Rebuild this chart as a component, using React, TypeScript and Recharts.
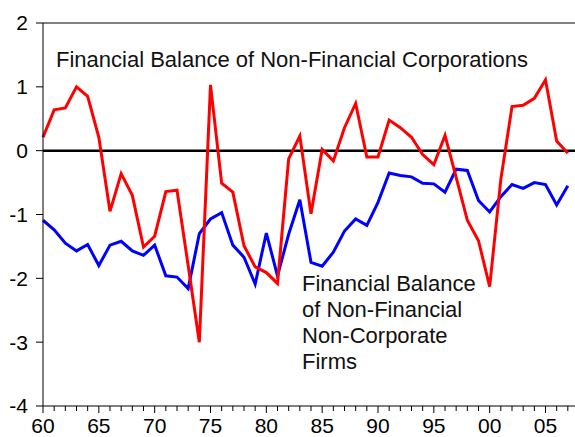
import React from 'react';
import { LineChart, Line, XAxis, YAxis, ReferenceLine } from 'recharts';

// Years 1960-2007
const years = [
    1960, 1961, 1962, 1963, 1964, 1965, 1966, 1967, 1968, 1969,
    1970, 1971, 1972, 1973, 1974, 1975, 1976, 1977, 1978, 1979,
    1980, 1981, 1982, 1983, 1984, 1985, 1986, 1987, 1988, 1989,
    1990, 1991, 1992, 1993, 1994, 1995, 1996, 1997, 1998, 1999,
    2000, 2001, 2002, 2003, 2004, 2005, 2006, 2007,
];

// Financial balance of non-financial corporations (red)
const corporations = [
    0.21, 0.64, 0.67, 1.0, 0.85, 0.21, -0.95, -0.36, -0.7, -1.51,
    -1.34, -0.64, -0.62, -1.8, -3.0, 1.03, -0.51, -0.65, -1.49, -1.82,
    -1.91, -2.08, -0.13, 0.23, -0.99, 0.02, -0.16, 0.36, 0.74, -0.1,
    -0.1, 0.48, 0.36, 0.21, -0.06, -0.22, 0.24, -0.42, -1.09, -1.41,
    -2.13, -0.45, 0.69, 0.71, 0.82, 1.11, 0.15, -0.04,
];

// Financial balance of non-financial non-corporate firms (blue)
const nonCorporate = [
    -1.09, -1.24, -1.45, -1.57, -1.47, -1.8, -1.48, -1.42, -1.57, -1.64,
    -1.48, -1.96, -1.98, -2.16, -1.3, -1.07, -0.97, -1.48, -1.67, -2.09,
    -1.29, -1.96, -1.31, -0.77, -1.75, -1.81, -1.59, -1.26, -1.07, -1.17,
    -0.81, -0.35, -0.39, -0.41, -0.51, -0.52, -0.65, -0.29, -0.31, -0.78,
    -0.96, -0.72, -0.53, -0.59, -0.5, -0.53, -0.85, -0.55,
];

const yTicks = [-4, -3, -2, -1, 0, 1, 2];
const xTicks = Array.from({ length: 49 }, (_, i) => 1960 + i);

const data = years.map((year, i) => ({
    year,
    corp: corporations[i],
    nonCorp: nonCorporate[i],
}));

const FONT = '"Liberation Sans", Arial, sans-serif';

const YearTick = (props: any) => {
    const { x, y, payload } = props;
    const yr = payload.value as number;
    const major = yr % 5 === 0;
    return (
        <g>
            <line x1={x} x2={x} y1={y} y2={y + (major ? 7 : 5)} stroke="#000" strokeWidth={1} />
            {major && yr < 2008 && (
                <text x={x} y={y + 27} textAnchor="middle" fontSize={21} fontFamily={FONT} fill="#000">
                    {String(yr % 100).padStart(2, '0')}
                </text>
            )}
        </g>
    );
};

const App = () => {
    return (
        <div style={{ position: 'absolute', left: 0, top: 0, width: 575, height: 437, overflow: 'hidden', background: '#fff' }}>
            <LineChart
                width={600}
                height={437}
                data={data}
                margin={{ top: 23, right: 21, bottom: 0, left: 0 }}
            >
                <XAxis
                    dataKey="year"
                    type="number"
                    domain={[1960, 2008]}
                    ticks={xTicks}
                    interval={0}
                    height={31}
                    tickLine={false}
                    tickSize={0}
                    tickMargin={0}
                    stroke="#000"
                    tick={<YearTick />}
                />
                <YAxis
                    type="number"
                    domain={[-4, 2]}
                    ticks={yTicks}
                    interval={0}
                    width={43}
                    tickSize={7}
                    tickMargin={8}
                    stroke="#000"
                    tick={{ fontSize: 21, fontFamily: FONT, fill: '#000' }}
                />
                <ReferenceLine y={2} stroke="#000" strokeWidth={1} />
                <ReferenceLine y={0} stroke="#000" strokeWidth={2.5} />
                <Line
                    dataKey="nonCorp"
                    stroke="#0000ff"
                    strokeWidth={3}
                    dot={false}
                    isAnimationActive={false}
                />
                <Line
                    dataKey="corp"
                    stroke="#ff0000"
                    strokeWidth={3}
                    dot={false}
                    isAnimationActive={false}
                />
            </LineChart>
            <svg
                width={575}
                height={437}
                style={{ position: 'absolute', left: 0, top: 0, pointerEvents: 'none' }}
                fontFamily={FONT}
                fontSize={22}
                fill="#111"
            >
                <text x={56} y={67}>Financial Balance of Non-Financial Corporations</text>
                <text x={302} y={291}>Financial Balance</text>
                <text x={302} y={317}>of Non-Financial</text>
                <text x={302} y={343}>Non-Corporate</text>
                <text x={302} y={369}>Firms</text>
            </svg>
        </div>
    );
};

export default App;
